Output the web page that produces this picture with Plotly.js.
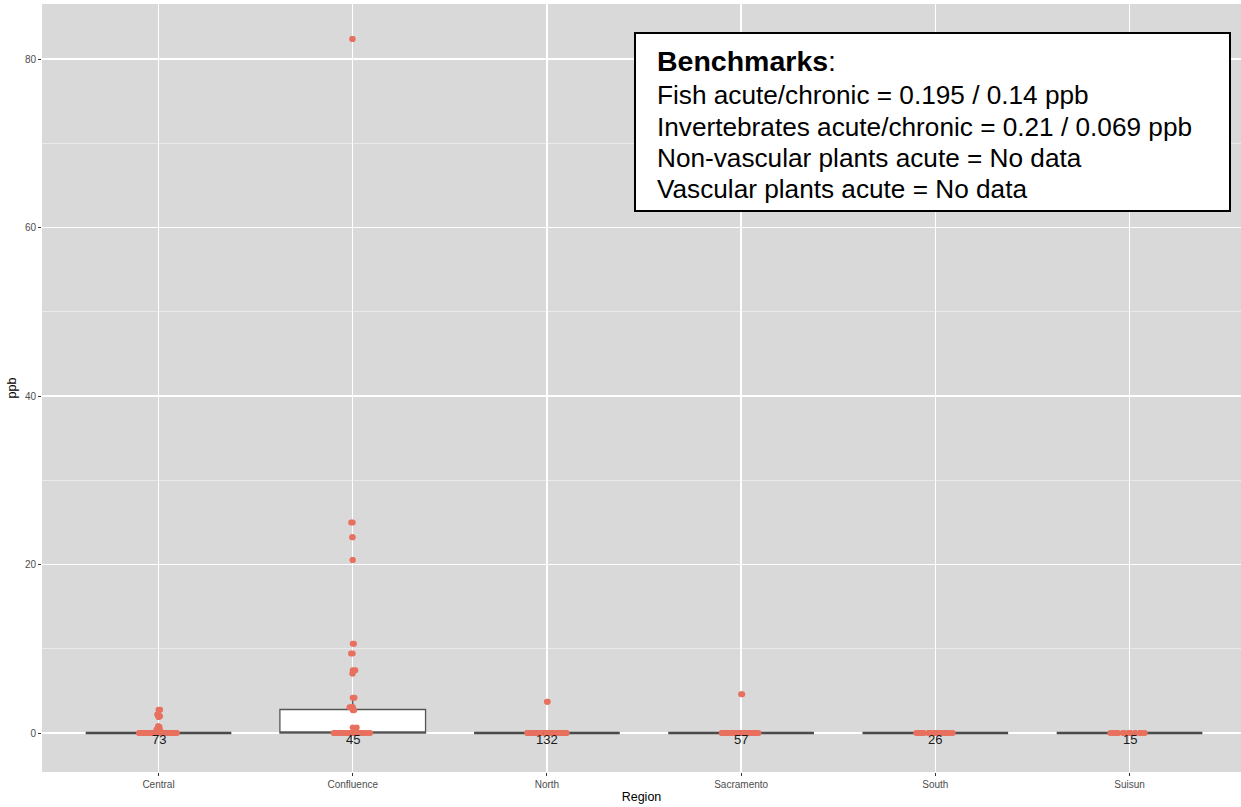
<!DOCTYPE html>
<html>
<head>
<meta charset="utf-8">
<script src="https://cdn.plot.ly/plotly-3.0.1.min.js"></script>
<style>html,body{margin:0;padding:0;background:#fff;}#chart{width:1241px;height:807px;}</style>
</head>
<body>
<div id="chart"></div>
<script>
// ---- data (ppb) ----
const regions = ['Central', 'Confluence', 'North', 'Sacramento', 'South', 'Suisun'];

const central = [2.75, 2.2, 2.0, 1.9, 0.8, 0.7, 0.5, 0.4, 0.3,
  0,0,0,0,0,0,0,0,0,0,
  0,0,0,0,0,0,0,0,0,0,
  0,0,0,0,0,0,0,0,0,0,
  0,0,0,0,0,0,0,0,0,0,
  0,0,0,0,0,0,0,0,0,0,
  0,0,0,0,0,0,0,0,0,0,
  0,0,0,0];

const confluence = [82.4, 25.0, 23.25, 20.55, 10.6, 9.45, 7.45, 7.05, 4.2, 3.05, 3.05, 2.7, 0.64,
  0,0,0,0,0,0,0,0,0,0,
  0,0,0,0,0,0,0,0,0,0,
  0,0,0,0,0,0,0,0,0,0,
  0,0];

const north = [3.7,
  0,0,0,0,0,0,0,0,0,0,
  0,0,0,0,0,0,0,0,0,0,
  0,0,0,0,0,0,0,0,0,0,
  0,0,0,0,0,0,0,0,0,0,
  0,0,0,0,0,0,0,0,0,0,
  0,0,0,0,0,0,0,0,0,0,
  0,0,0,0,0,0,0,0,0,0,
  0,0,0,0,0,0,0,0,0,0,
  0,0,0,0,0,0,0,0,0,0,
  0,0,0,0,0,0,0,0,0,0,
  0,0,0,0,0,0,0,0,0,0,
  0,0,0,0,0,0,0,0,0,0,
  0,0,0,0,0,0,0,0,0,0,
  0];

const sacramento = [4.6,
  0,0,0,0,0,0,0,0,0,0,
  0,0,0,0,0,0,0,0,0,0,
  0,0,0,0,0,0,0,0,0,0,
  0,0,0,0,0,0,0,0,0,0,
  0,0,0,0,0,0,0,0,0,0,
  0,0,0,0,0,0];

const south = [
  0,0,0,0,0,0,0,0,0,0,
  0,0,0,0,0,0,0,0,0,0,
  0,0,0,0,0,0];

const suisun = [
  0,0,0,0,0,0,0,0,0,0,
  0,0,0,0,0];

const seriesByRegion = [central, confluence, north, sacramento, south, suisun];

const benchmarkTitle = 'Benchmarks';
const benchmarkLines = [
  'Fish acute/chronic = 0.195 / 0.14 ppb',
  'Invertebrates acute/chronic = 0.21 / 0.069 ppb',
  'Non-vascular plants acute = No data',
  'Vascular plants acute = No data'
];

// ---- styles ----
const pointColor = '#E8705E';
const FONT = 'Liberation Sans, Arial, Helvetica, sans-serif';

const traces = [];

// boxes (outlier markers hidden; whiskers stop at 1.5 IQR like ggplot)
regions.forEach((r, i) => {
  traces.push({
    type: 'box', name: r, x: seriesByRegion[i].map(() => r), y: seriesByRegion[i],
    boxpoints: 'outliers', marker: {opacity: 0, size: 1},
    width: 0.75, whiskerwidth: 0,
    fillcolor: '#FFFFFF',
    line: {color: r === 'Confluence' ? '#555555' : '#4A4A4A', width: r === 'Confluence' ? 1.3 : 2.6},
    showlegend: false, hoverinfo: 'skip'
  });
});

// jittered points (library jitter)
regions.forEach((r, i) => {
  traces.push({
    type: 'box', name: r + ' jitter', x: seriesByRegion[i].map(() => r), y: seriesByRegion[i],
    boxpoints: 'all', jitter: 0.27, pointpos: 0, width: 0.75, whiskerwidth: 0,
    fillcolor: 'rgba(0,0,0,0)', line: {width: 0, color: 'rgba(0,0,0,0)'},
    marker: {color: pointColor, size: 6, line: {width: 0}},
    showlegend: false, hoverinfo: 'skip'
  });
});

// un-jittered points
const px = [], py = [];
regions.forEach((r, i) => seriesByRegion[i].forEach(v => { px.push(r); py.push(v); }));
traces.push({
  type: 'scatter', mode: 'markers', x: px, y: py,
  marker: {color: pointColor, size: 6, line: {width: 0}},
  showlegend: false, hoverinfo: 'skip'
});

// count labels
const annotations = regions.map((r, i) => ({
  x: r, y: 0, xref: 'x', yref: 'y', text: String(seriesByRegion[i].length),
  showarrow: false, yanchor: 'top', yshift: 3,
  font: {family: FONT, size: 13, color: '#1A1A1A'}
}));

// benchmark box text
const plotL = 42, plotT = 4, plotW = 1199, plotH = 768;
const px2paper = x => (x - plotL) / plotW;
const py2paper = y => 1 - (y - plotT) / plotH;
annotations.push({
  xref: 'paper', yref: 'paper', x: px2paper(655), y: py2paper(61), xanchor: 'left', yanchor: 'middle',
  text: '<b>' + benchmarkTitle + '</b>:', showarrow: false, align: 'left',
  font: {family: FONT, size: 28.5, color: '#000'}
});
const lineY = [95, 126.5, 158, 189];
benchmarkLines.forEach((t, k) => annotations.push({
  xref: 'paper', yref: 'paper', x: px2paper(655), y: py2paper(lineY[k]), xanchor: 'left', yanchor: 'middle',
  text: t, showarrow: false, align: 'left',
  font: {family: FONT, size: 26.2, color: '#000'}
}));

const layout = {
  width: 1241, height: 807,
  margin: {l: 42, r: 0, t: 4, b: 35, pad: 0},
  paper_bgcolor: '#FFFFFF', plot_bgcolor: '#D9D9D9',
  font: {family: FONT},
  hovermode: false, showlegend: false, boxmode: 'overlay',
  xaxis: {
    type: 'category', categoryorder: 'array', categoryarray: regions,
    range: [-0.6, 5.574], showgrid: true, gridcolor: '#FFFFFF', gridwidth: 1.4,
    zeroline: false, showline: false,
    ticks: 'outside', ticklen: 3, tickwidth: 1, tickcolor: '#333333',
    tickfont: {family: FONT, size: 10, color: '#4D4D4D'},
    title: {text: 'Region', font: {family: FONT, size: 12.5, color: '#000'}, standoff: 3},
    automargin: false, fixedrange: true
  },
  yaxis: {
    range: [-4.63, 86.55], tick0: 0, dtick: 20,
    showgrid: true, gridcolor: '#FFFFFF', gridwidth: 1.4,
    minor: {tick0: 0, dtick: 10, showgrid: true, gridcolor: '#EEEEEE', gridwidth: 0.8, ticks: ''},
    zeroline: false, showline: false,
    ticks: 'outside', ticklen: 3, tickwidth: 1, tickcolor: '#333333',
    tickfont: {family: FONT, size: 10, color: '#4D4D4D'},
    title: {text: 'ppb', font: {family: FONT, size: 12.5, color: '#000'}, standoff: 5},
    automargin: false, fixedrange: true
  },
  shapes: [{
    type: 'rect', xref: 'paper', yref: 'paper', layer: 'above',
    x0: px2paper(635), x1: px2paper(1230), y0: py2paper(211), y1: py2paper(33),
    line: {color: '#000000', width: 2}, fillcolor: '#FFFFFF'
  }],
  annotations: annotations
};

Plotly.newPlot('chart', traces, layout, {displayModeBar: false, staticPlot: true});
</script>
</body>
</html>
